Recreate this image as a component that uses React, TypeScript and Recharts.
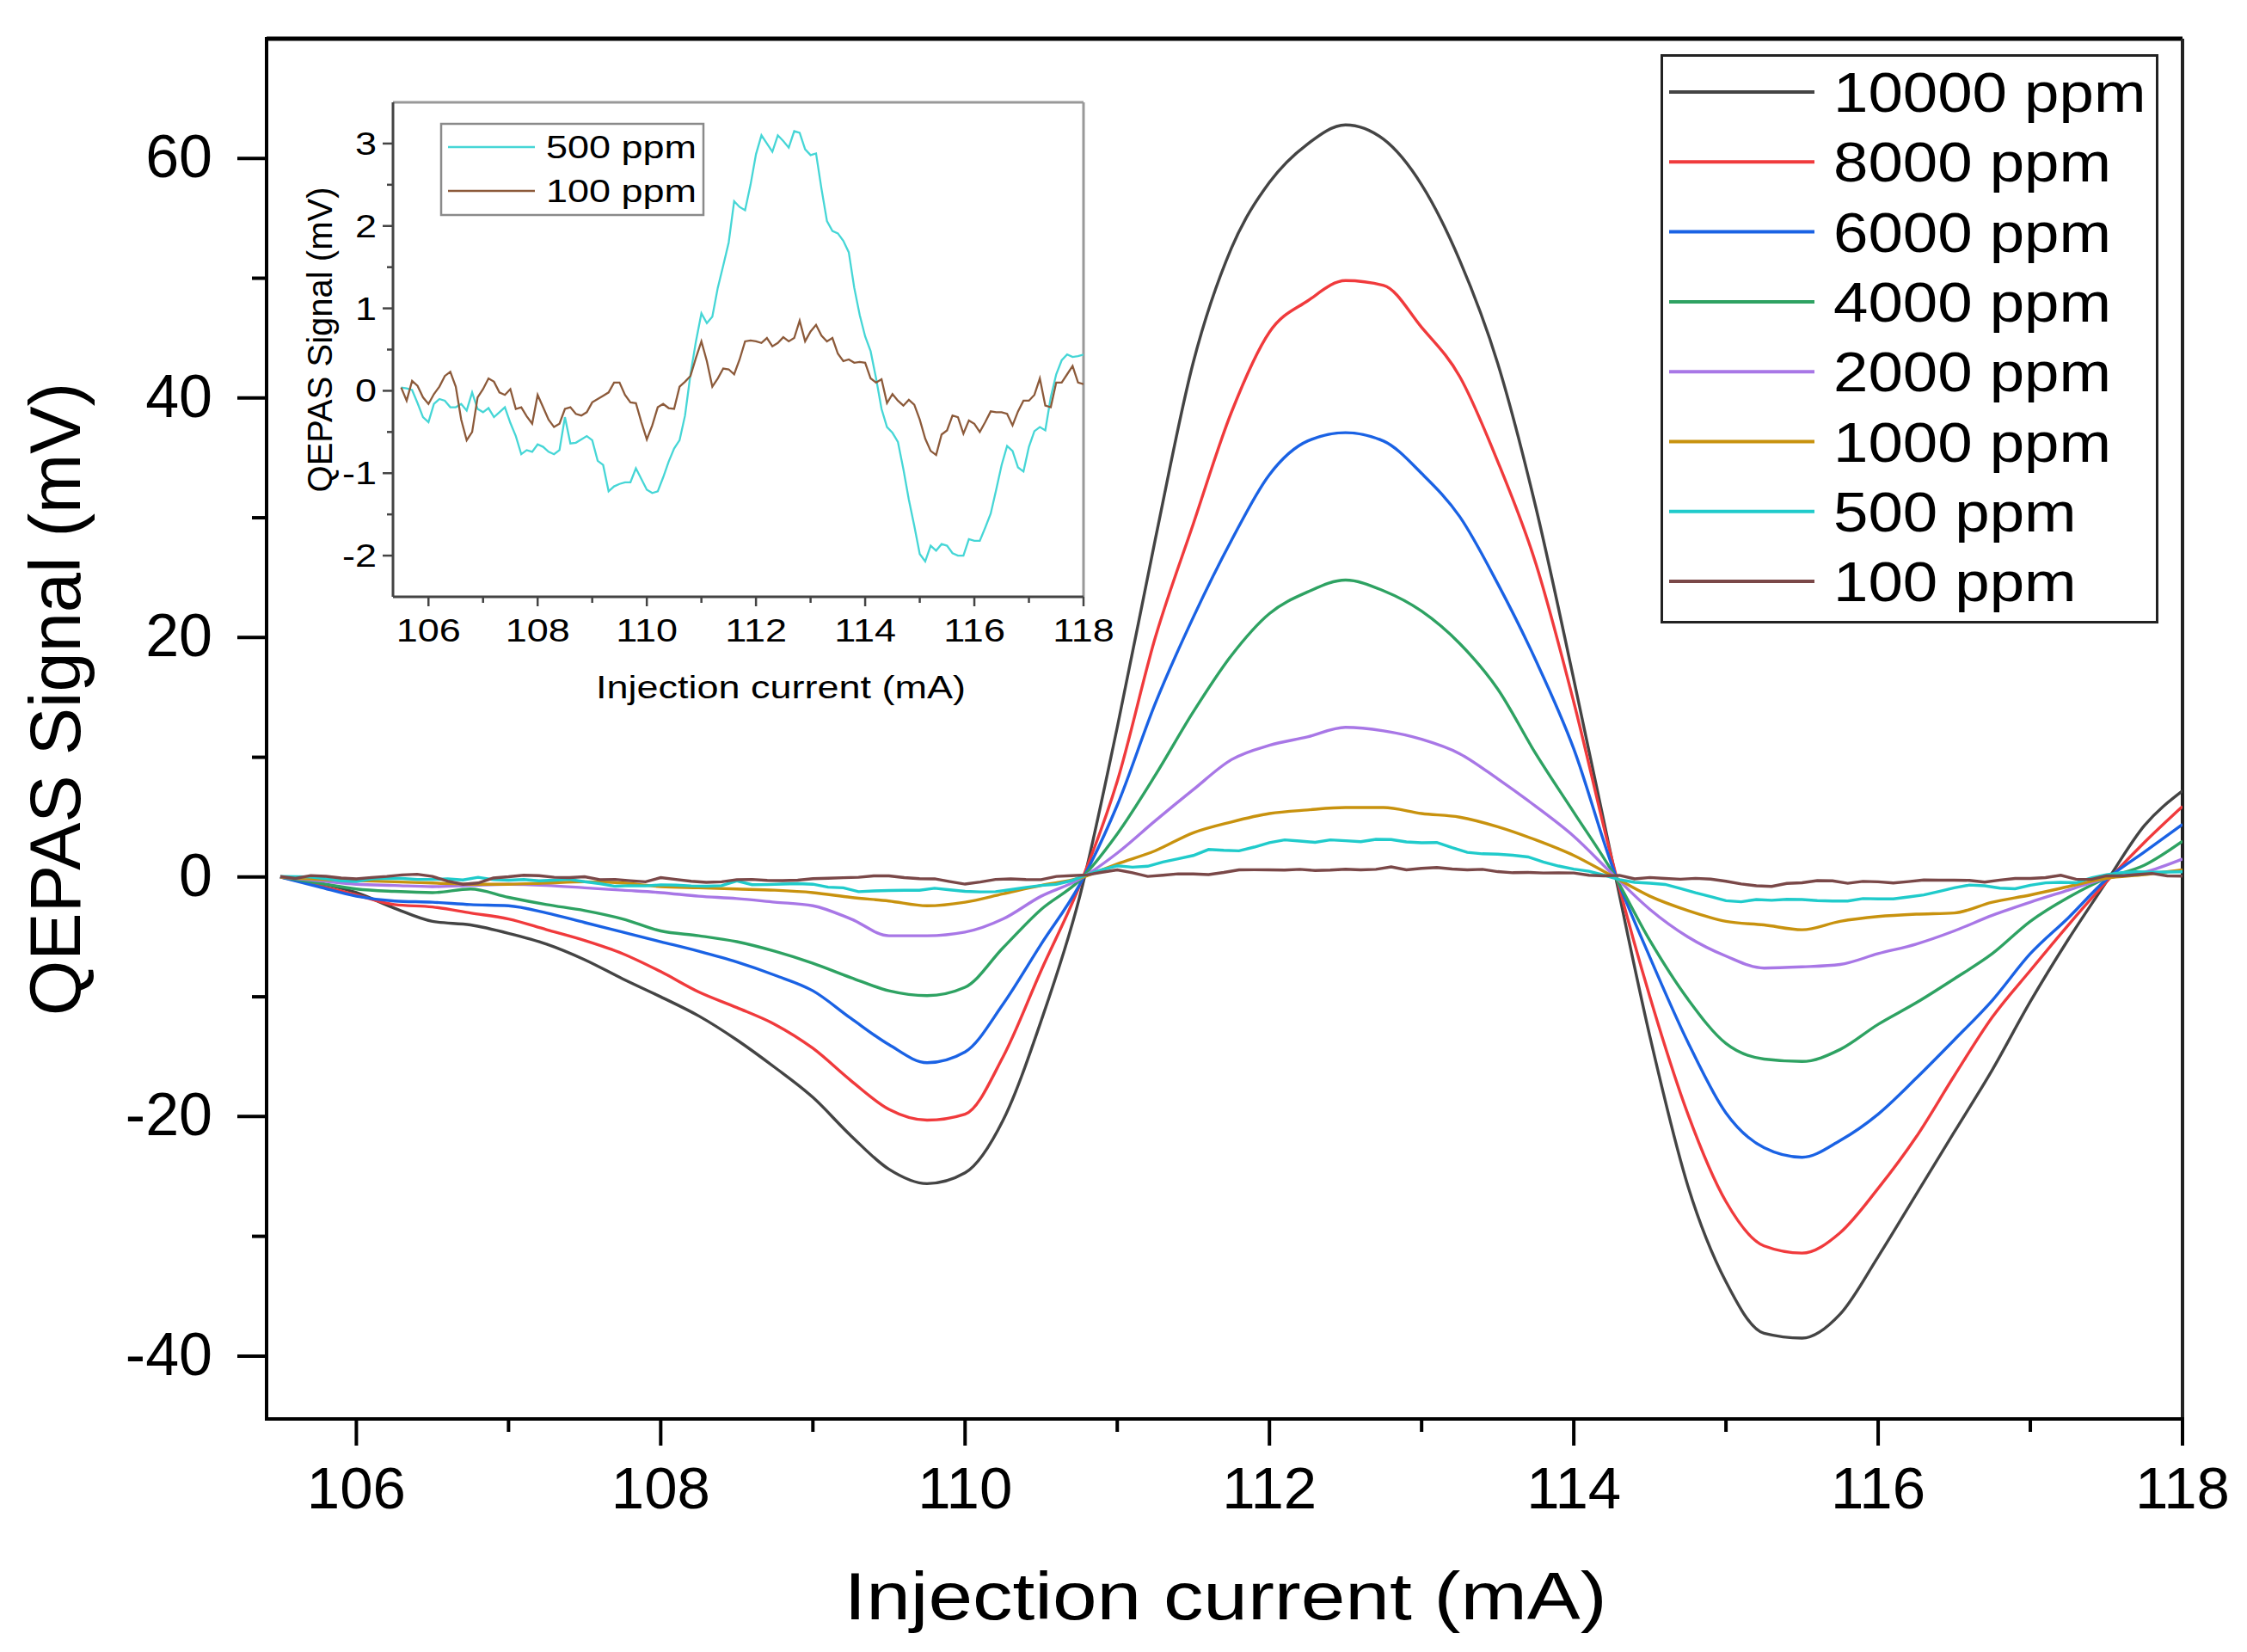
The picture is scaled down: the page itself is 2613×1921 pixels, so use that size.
import React from 'react';
import { LineChart, Line, XAxis, YAxis, ReferenceLine, Legend } from 'recharts';

const FONT = '"Liberation Sans", Arial, Helvetica, sans-serif';

// ---------- main chart data (0.25 mA grid) ----------
const mainX = [105.5, 105.75, 106, 106.25, 106.5, 106.75, 107, 107.25, 107.5, 107.75, 108, 108.25, 108.5, 108.75, 109, 109.25, 109.5, 109.75, 110, 110.25, 110.5, 110.75, 111, 111.25, 111.5, 111.75, 112, 112.25, 112.5, 112.75, 113, 113.25, 113.5, 113.75, 114, 114.25, 114.5, 114.75, 115, 115.25, 115.5, 115.75, 116, 116.25, 116.5, 116.75, 117, 117.25, 117.5, 117.75, 118];
const s10000 = [0, -0.5, -1.3, -2.6, -3.7, -4.0, -4.7, -5.6, -6.9, -8.5, -10.0, -11.6, -13.6, -15.9, -18.4, -21.6, -24.4, -25.6, -24.7, -20.3, -12.0, -1.8, 12.5, 28.2, 43.0, 52.5, 58.0, 61.2, 62.8, 61.6, 57.8, 51.5, 42.9, 30.9, 16.5, 1.5, -13.3, -25.8, -33.8, -38.1, -38.5, -36.5, -31.7, -26.5, -21.3, -16.1, -10.4, -5.2, -0.4, 4.3, 7.2];
const s8000 = [0, -0.7, -1.5, -2.3, -2.5, -3.0, -3.5, -4.4, -5.3, -6.4, -7.9, -9.6, -10.9, -12.3, -14.3, -17.0, -19.4, -20.3, -19.8, -15.0, -7.8, -0.8, 8.0, 20.0, 29.5, 38.8, 45.5, 48.1, 49.8, 49.4, 45.9, 41.8, 34.7, 26.2, 14.6, 1.5, -10.0, -19.8, -27.1, -30.8, -31.4, -29.7, -26.0, -21.7, -16.6, -11.7, -7.8, -4.0, -0.4, 2.9, 5.9];
const s6000 = [0, -0.8, -1.6, -2.0, -2.1, -2.3, -2.4, -3.0, -3.8, -4.6, -5.4, -6.2, -7.1, -8.2, -9.5, -11.8, -14.0, -15.5, -14.6, -10.6, -5.6, -0.7, 6.0, 14.5, 21.7, 28.1, 33.6, 36.4, 37.1, 36.4, 33.7, 30.1, 24.5, 18.1, 10.7, 1.0, -6.7, -13.8, -19.7, -22.6, -23.4, -22.0, -19.8, -16.8, -13.6, -10.3, -6.4, -3.4, -0.2, 2.1, 4.4];
const s4000 = [0, -0.5, -1.0, -1.2, -1.3, -1.0, -1.7, -2.3, -2.8, -3.5, -4.5, -4.9, -5.4, -6.2, -7.2, -8.4, -9.5, -9.9, -9.2, -5.9, -2.7, -0.3, 3.6, 8.5, 13.8, 18.5, 22.0, 23.8, 24.8, 23.9, 22.2, 19.5, 15.7, 10.3, 5.4, 0.5, -5.3, -10.2, -13.9, -15.2, -15.4, -14.4, -12.3, -10.5, -8.5, -6.4, -3.7, -1.7, -0.1, 1.0, 3.0];
const s2000 = [0, -0.3, -0.6, -0.7, -0.8, -0.7, -0.6, -0.7, -0.9, -1.1, -1.3, -1.6, -1.8, -2.1, -2.4, -3.5, -4.9, -4.9, -4.6, -3.5, -1.6, -0.2, 2.0, 4.7, 7.3, 9.8, 11.0, 11.7, 12.5, 12.2, 11.5, 10.3, 8.2, 5.9, 3.4, 0.3, -2.7, -5.0, -6.6, -7.6, -7.5, -7.3, -6.4, -5.6, -4.5, -3.2, -2.1, -1.1, -0.1, 0.4, 1.5];
const s1000 = [0, -0.2, -0.3, -0.4, -0.5, -0.6, -0.6, -0.5, -0.4, -0.5, -0.8, -0.9, -1.0, -1.1, -1.3, -1.7, -2.0, -2.4, -2.1, -1.4, -0.7, -0.1, 1.1, 2.2, 3.7, 4.6, 5.3, 5.6, 5.8, 5.8, 5.3, 5.0, 4.2, 3.1, 1.8, 0.1, -1.6, -2.8, -3.7, -4.0, -4.4, -3.7, -3.3, -3.1, -3.0, -2.1, -1.5, -0.8, -0.1, 0.2, 0.6];

// ---------- low-concentration data (0.1 mA grid, also shown in the inset) ----------
const lowX = [
  105.5, 105.6, 105.7, 105.8, 105.9, 106, 106.1, 106.2, 106.3, 106.4,
  106.5, 106.6, 106.7, 106.8, 106.9, 107, 107.1, 107.2, 107.3, 107.4,
  107.5, 107.6, 107.7, 107.8, 107.9, 108, 108.1, 108.2, 108.3, 108.4,
  108.5, 108.6, 108.7, 108.8, 108.9, 109, 109.1, 109.2, 109.3, 109.4,
  109.5, 109.6, 109.7, 109.8, 109.9, 110, 110.1, 110.2, 110.3, 110.4,
  110.5, 110.6, 110.7, 110.8, 110.9, 111, 111.1, 111.2, 111.3, 111.4,
  111.5, 111.6, 111.7, 111.8, 111.9, 112, 112.1, 112.2, 112.3, 112.4,
  112.5, 112.6, 112.7, 112.8, 112.9, 113, 113.1, 113.2, 113.3, 113.4,
  113.5, 113.6, 113.7, 113.8, 113.9, 114, 114.1, 114.2, 114.3, 114.4,
  114.5, 114.6, 114.7, 114.8, 114.9, 115, 115.1, 115.2, 115.3, 115.4,
  115.5, 115.6, 115.7, 115.8, 115.9, 116, 116.1, 116.2, 116.3, 116.4,
  116.5, 116.6, 116.7, 116.8, 116.9, 117, 117.1, 117.2, 117.3, 117.4,
  117.5, 117.6, 117.7, 117.8, 117.9, 118,
];
const s500 = [
  0.04, 0.03, 0.01, -0.15, -0.32, -0.38, -0.16, -0.1, -0.12, -0.2,
  -0.2, -0.16, -0.24, -0.02, -0.22, -0.26, -0.21, -0.32, -0.26, -0.2,
  -0.39, -0.55, -0.77, -0.72, -0.74, -0.65, -0.68, -0.74, -0.77, -0.72,
  -0.32, -0.64, -0.63, -0.59, -0.55, -0.6, -0.85, -0.9, -1.22, -1.16,
  -1.13, -1.11, -1.11, -0.94, -1.07, -1.2, -1.24, -1.22, -1.05, -0.86,
  -0.7, -0.6, -0.3, 0.2, 0.6, 0.94, 0.82, 0.9, 1.25, 1.52,
  1.8, 2.3, 2.23, 2.19, 2.5, 2.87, 3.1, 3.0, 2.9, 3.1,
  3.03, 2.95, 3.15, 3.13, 2.93, 2.86, 2.88, 2.45, 2.06, 1.94,
  1.91, 1.82, 1.68, 1.25, 0.92, 0.66, 0.48, 0.15, -0.22, -0.44,
  -0.51, -0.62, -0.95, -1.32, -1.64, -1.98, -2.07, -1.88, -1.94, -1.86,
  -1.88, -1.97, -2.0, -2.0, -1.8, -1.82, -1.82, -1.66, -1.49, -1.2,
  -0.9, -0.67, -0.73, -0.93, -0.98, -0.68, -0.49, -0.44, -0.48, -0.08,
  0.2, 0.37, 0.44, 0.41, 0.42, 0.44,
];
const s100 = [
  0.04, -0.12, 0.12, 0.06, -0.08, -0.16, -0.04, 0.05, 0.18, 0.23,
  0.05, -0.35, -0.6, -0.5, -0.08, 0.02, 0.15, 0.11, -0.02, -0.05,
  0.02, -0.22, -0.2, -0.31, -0.4, -0.05, -0.2, -0.35, -0.44, -0.4,
  -0.22, -0.2, -0.28, -0.3, -0.26, -0.14, -0.1, -0.06, -0.02, 0.1,
  0.1, -0.05, -0.14, -0.15, -0.38, -0.59, -0.42, -0.2, -0.16, -0.21,
  -0.22, 0.05, 0.11, 0.18, 0.4, 0.6, 0.36, 0.05, 0.15, 0.27,
  0.26, 0.2, 0.38, 0.6, 0.61, 0.6, 0.58, 0.64, 0.54, 0.58,
  0.65, 0.6, 0.64, 0.85, 0.6, 0.72, 0.8, 0.67, 0.6, 0.64,
  0.45, 0.36, 0.38, 0.34, 0.35, 0.34, 0.15, 0.1, 0.14, -0.15,
  -0.04, -0.12, -0.18, -0.11, -0.17, -0.35, -0.58, -0.73, -0.78, -0.53,
  -0.48, -0.3, -0.32, -0.52, -0.36, -0.4, -0.5, -0.38, -0.25, -0.26,
  -0.26, -0.28, -0.42, -0.25, -0.12, -0.12, -0.05, 0.15, -0.18, -0.2,
  0.1, 0.1, 0.2, 0.3, 0.1, 0.08,
];

const seriesNames = ['10000 ppm', '8000 ppm', '6000 ppm', '4000 ppm', '2000 ppm', '1000 ppm', '500 ppm', '100 ppm'];
const seriesColors = ['#444444', '#f03a3c', '#1a62e4', '#2ea262', '#a877e6', '#c8920e', '#20cbcb', '#7a4848'];
const insetNames = ['500 ppm', '100 ppm'];
const insetColors = ['#46d6d6', '#8c5a3a'];

const mainXTicks = [106, 107, 108, 109, 110, 111, 112, 113, 114, 115, 116, 117, 118];
const mainXLabels = [106, 108, 110, 112, 114, 116, 118];
const mainYTicks = [-40, -30, -20, -10, 0, 10, 20, 30, 40, 50, 60];
const mainYLabels = [-40, -20, 0, 20, 40, 60];
const insetXTicks = [106, 107, 108, 109, 110, 111, 112, 113, 114, 115, 116, 117, 118];
const insetXLabels = [106, 108, 110, 112, 114, 116, 118];
const insetYTicks = [-2, -1.5, -1, -0.5, 0, 0.5, 1, 1.5, 2, 2.5, 3];
const insetYLabels = [-2, -1, 0, 1, 2, 3];

const mainTable = mainX.map((x, i) => ({
  x,
  c10000: s10000[i],
  c8000: s8000[i],
  c6000: s6000[i],
  c4000: s4000[i],
  c2000: s2000[i],
  c1000: s1000[i],
}));
const lowTable = lowX.map((x, i) => ({ x, c500: s500[i], c100: s100[i] }));

// ---------- ticks ----------
function MainXTick(props: any) {
  const { x, y, payload } = props;
  const v = payload.value;
  const major = mainXLabels.includes(v);
  return (
    <g>
      <line x1={x} x2={x} y1={y} y2={y + (major ? 31 : 15)} stroke="#000" strokeWidth={4} />
      {major && (
        <text x={x} y={y + 104} textAnchor="middle" fontSize={69} fontFamily={FONT} fill="#000">
          {v}
        </text>
      )}
    </g>
  );
}
function MainYTick(props: any) {
  const { x, y, payload } = props;
  const v = payload.value;
  const major = mainYLabels.includes(v);
  return (
    <g>
      <line x1={x - (major ? 34 : 17)} x2={x} y1={y} y2={y} stroke="#000" strokeWidth={4} />
      {major && (
        <text x={x - 63} y={y + 22} textAnchor="end" fontSize={70} fontFamily={FONT} fill="#000">
          {v}
        </text>
      )}
    </g>
  );
}
function InsetXTick(props: any) {
  const { x, y, payload } = props;
  const v = payload.value;
  const major = insetXLabels.includes(v);
  return (
    <g>
      <line x1={x} x2={x} y1={y} y2={y + (major ? 11 : 7)} stroke="#444" strokeWidth={2.5} />
      {major && (
        <text transform={`translate(${x} ${y + 52}) scale(1.25 1)`} textAnchor="middle" fontSize={36} fontFamily={FONT} fill="#000">
          {v}
        </text>
      )}
    </g>
  );
}
function InsetYTick(props: any) {
  const { x, y, payload } = props;
  const v = payload.value;
  const major = insetYLabels.includes(v);
  return (
    <g>
      <line x1={x - (major ? 12 : 7)} x2={x} y1={y} y2={y} stroke="#444" strokeWidth={2.5} />
      {major && (
        <text transform={`translate(${x - 19} ${y + 13}) scale(1.25 1)`} textAnchor="end" fontSize={36} fontFamily={FONT} fill="#000">
          {v}
        </text>
      )}
    </g>
  );
}

// ---------- titles ----------
function MainXTitle() {
  return (
    <text transform="translate(1425 1883) scale(1.19 1)" textAnchor="middle" fontSize={78} fontFamily={FONT} fill="#000">
      Injection current (mA)
    </text>
  );
}
function MainYTitle() {
  return (
    <text transform="translate(93 813) rotate(-90)" textAnchor="middle" fontSize={83} fontFamily={FONT} fill="#000">
      QEPAS Signal (mV)
    </text>
  );
}
function InsetXTitle() {
  return (
    <text transform="translate(908 812) scale(1.25 1)" textAnchor="middle" fontSize={36} fontFamily={FONT} fill="#000">
      Injection current (mA)
    </text>
  );
}
function InsetYTitle() {
  return (
    <text transform="translate(386 395) rotate(-90)" textAnchor="middle" fontSize={40} fontFamily={FONT} fill="#000">
      QEPAS Signal (mV)
    </text>
  );
}

// ---------- legends ----------
function orderBy(payload: any[], names: string[]) {
  return [...payload].sort((a, b) => names.indexOf(a.value) - names.indexOf(b.value));
}
function MainLegend(props: any) {
  const payload = orderBy(props.payload || [], seriesNames);
  return (
    <svg width={580} height={664} style={{ display: 'block' }}>
      <rect x={1.5} y={1.5} width={576} height={659} fill="#fff" stroke="#222" strokeWidth={3} />
      {payload.map((p: any, i: number) => {
        const cy = 44 + i * 81.3;
        return (
          <g key={i}>
            <line x1={10} x2={179} y1={cy} y2={cy} stroke={p.color} strokeWidth={4} />
            <text transform={`translate(201 ${cy + 23}) scale(1.135 1)`} fontSize={64} fontFamily={FONT} fill="#000">
              {p.value}
            </text>
          </g>
        );
      })}
    </svg>
  );
}
function InsetLegend(props: any) {
  const payload = orderBy(props.payload || [], insetNames);
  return (
    <svg width={310} height={110} style={{ display: 'block' }}>
      <rect x={2} y={2} width={305} height={106} fill="#fff" stroke="#8a8a8a" strokeWidth={2.5} />
      {payload.map((p: any, i: number) => {
        const cy = 29 + i * 51;
        return (
          <g key={i}>
            <line x1={10} x2={111} y1={cy} y2={cy} stroke={p.color} strokeWidth={2.5} />
            <text transform={`translate(124 ${cy + 13}) scale(1.25 1)`} fontSize={36} fontFamily={FONT} fill="#000">
              {p.value}
            </text>
          </g>
        );
      })}
    </svg>
  );
}

const mainKeys = ['c10000', 'c8000', 'c6000', 'c4000', 'c2000', 'c1000'];

export default function App() {
  return (
    <div style={{ position: 'absolute', left: 0, top: 0, width: 2613, height: 1921, background: '#fff' }}>
      <div style={{ position: 'absolute', left: 0, top: 0 }}>
        <LineChart width={2613} height={1921} data={mainTable} margin={{ top: 45, right: 75, bottom: 0, left: 0 }}>
          <XAxis
            dataKey="x"
            type="number"
            domain={[105.41, 118]}
            ticks={mainXTicks}
            interval={0}
            allowDataOverflow
            tick={<MainXTick />}
            tickLine={false}
            tickSize={0}
            tickMargin={0}
            height={271}
            axisLine={{ stroke: '#000', strokeWidth: 4, strokeLinecap: 'square' }}
            label={<MainXTitle />}
          />
          <YAxis
            type="number"
            domain={[-45.25, 70]}
            ticks={mainYTicks}
            interval={0}
            allowDataOverflow
            tick={<MainYTick />}
            tickLine={false}
            tickSize={0}
            tickMargin={0}
            width={310}
            axisLine={{ stroke: '#000', strokeWidth: 4, strokeLinecap: 'square' }}
            label={<MainYTitle />}
          />
          <ReferenceLine y={70} stroke="#000" strokeWidth={5} />
          <ReferenceLine x={118} stroke="#222" strokeWidth={4} />
          {mainKeys.map((k, i) => (
            <Line
              key={k}
              dataKey={k}
              name={seriesNames[i]}
              stroke={seriesColors[i]}
              strokeWidth={3.4}
              dot={false}
              type="monotone"
              isAnimationActive={false}
            />
          ))}
          <Line data={lowTable} dataKey="c500" name={seriesNames[6]} stroke={seriesColors[6]} strokeWidth={3.4} dot={false} type="linear" isAnimationActive={false} />
          <Line data={lowTable} dataKey="c100" name={seriesNames[7]} stroke={seriesColors[7]} strokeWidth={3.4} dot={false} type="linear" isAnimationActive={false} />
          <Legend
            layout="vertical"
            align="center"
            verticalAlign="middle"
            content={<MainLegend />}
            wrapperStyle={{ position: 'absolute', left: 1931, top: 63, width: 580, height: 664, margin: 0, padding: 0 }}
          />
        </LineChart>
      </div>
      <div style={{ position: 'absolute', left: 0, top: 0 }}>
        <LineChart width={1300} height={850} data={lowTable} margin={{ top: 119, right: 40, bottom: 0, left: 0 }}>
          <XAxis
            dataKey="x"
            type="number"
            domain={[105.35, 118]}
            ticks={insetXTicks}
            interval={0}
            allowDataOverflow
            tick={<InsetXTick />}
            tickLine={false}
            tickSize={0}
            tickMargin={0}
            height={156}
            axisLine={{ stroke: '#444', strokeWidth: 3 }}
            label={<InsetXTitle />}
          />
          <YAxis
            type="number"
            domain={[-2.5, 3.5]}
            ticks={insetYTicks}
            interval={0}
            allowDataOverflow
            tick={<InsetYTick />}
            tickLine={false}
            tickSize={0}
            tickMargin={0}
            width={457}
            axisLine={{ stroke: '#444', strokeWidth: 3 }}
            label={<InsetYTitle />}
          />
          <ReferenceLine y={3.5} stroke="#999" strokeWidth={3} />
          <ReferenceLine x={118} stroke="#999" strokeWidth={3} />
          <Line dataKey="c500" name={insetNames[0]} stroke={insetColors[0]} strokeWidth={2.3} dot={false} type="linear" isAnimationActive={false} />
          <Line dataKey="c100" name={insetNames[1]} stroke={insetColors[1]} strokeWidth={2.3} dot={false} type="linear" isAnimationActive={false} />
          <Legend
            layout="vertical"
            align="center"
            verticalAlign="middle"
            content={<InsetLegend />}
            wrapperStyle={{ position: 'absolute', left: 511, top: 142, width: 310, height: 110, margin: 0, padding: 0 }}
          />
        </LineChart>
      </div>
    </div>
  );
}
